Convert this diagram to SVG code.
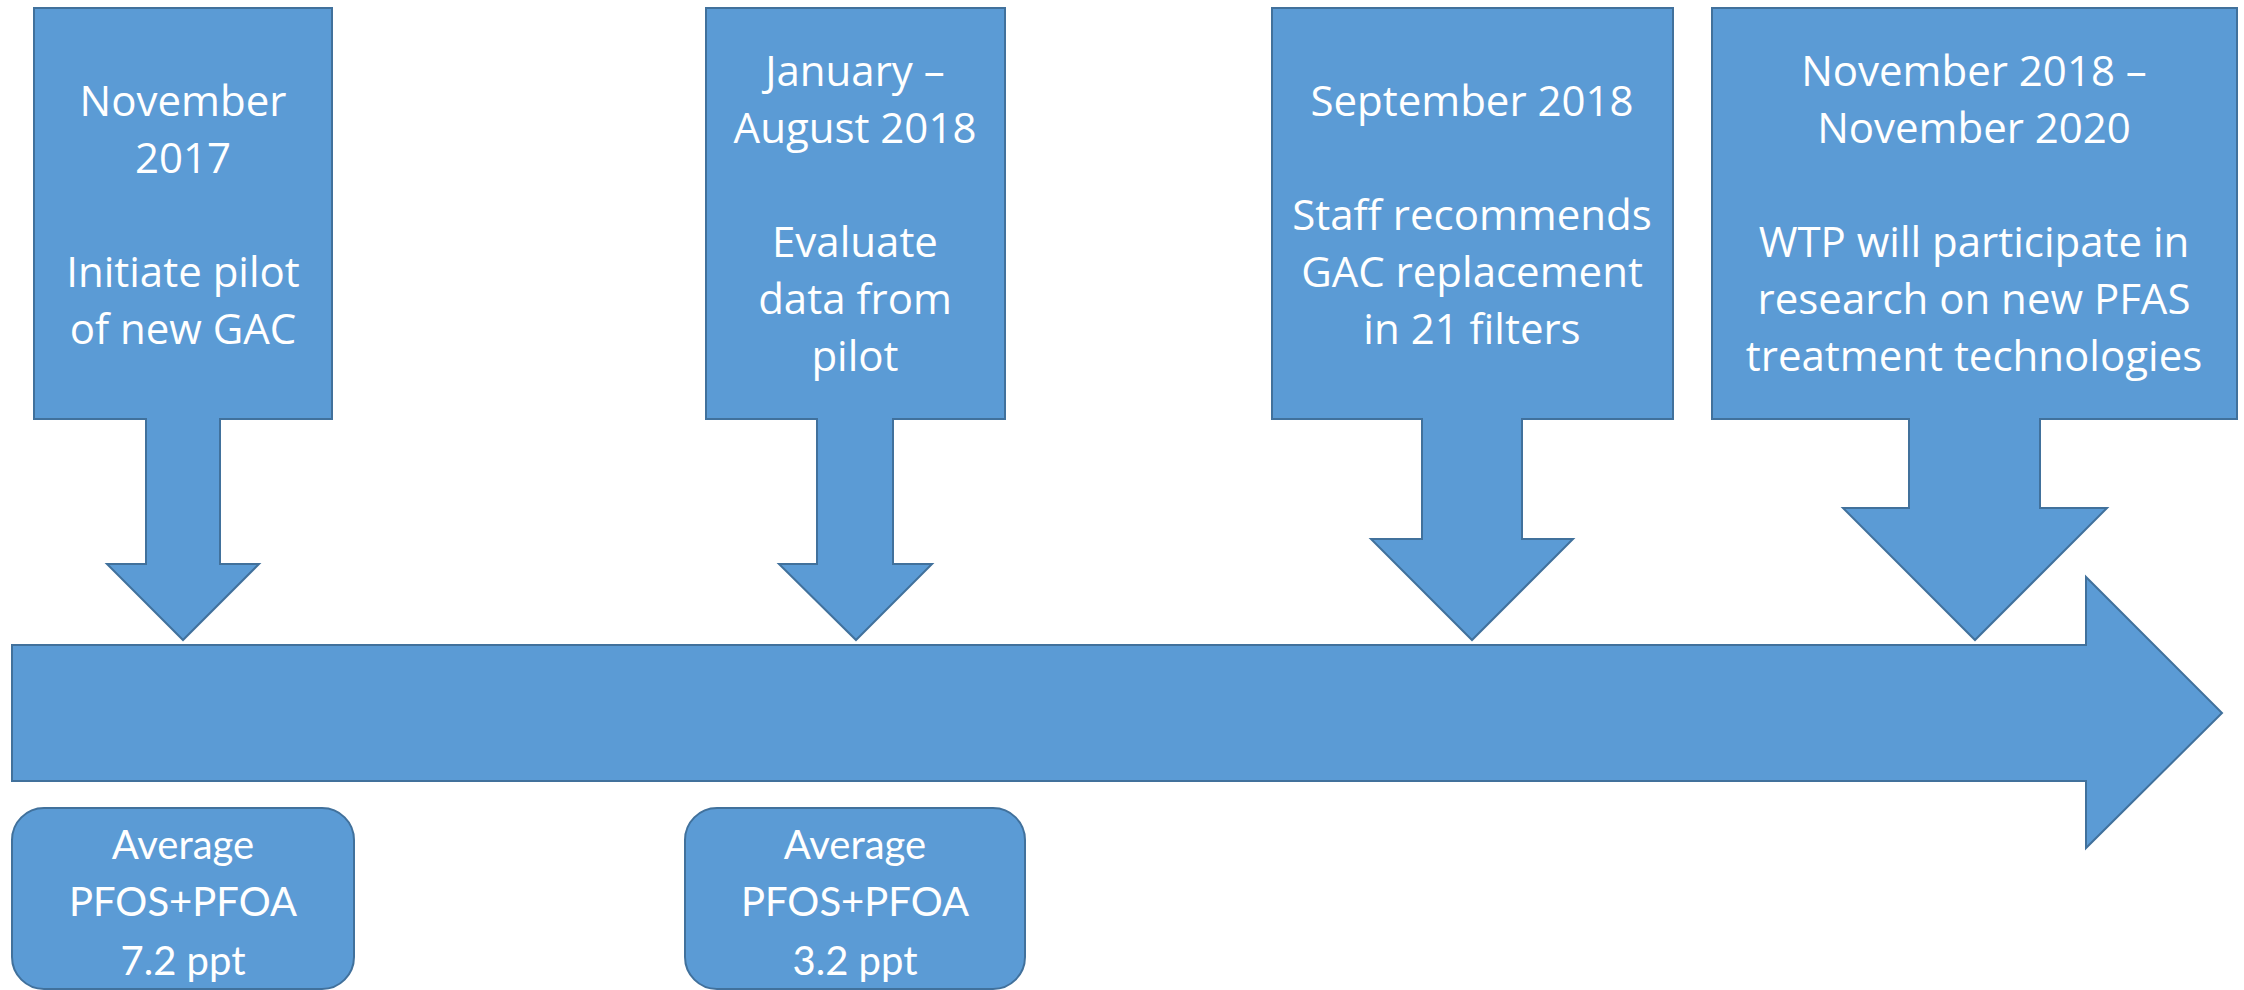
<svg xmlns="http://www.w3.org/2000/svg" width="2244" height="990" viewBox="0 0 2244 990">
<style>
.s{fill:#5B9BD5;stroke:#41719C;stroke-width:2;stroke-linejoin:miter}
.t{font-family:"Open Sans","Noto Sans",sans-serif;font-size:42px;fill:#FFFFFF;text-anchor:middle}
.b{font-family:Lato,"Liberation Sans",sans-serif;font-size:40px;fill:#FFFFFF;text-anchor:middle}
</style>
<rect width="2244" height="990" fill="#FFFFFF"/>
<g id="connectors">
<path id="timeline" class="s" d="M12,645 L2086,645 L2086,577 L2222,713 L2086,848 L2086,781 L12,781 Z"/>
</g>
<g id="node1">
<path class="s" d="M34,8 L332,8 L332,419 L220,419 L220,564 L259,564 L183,640 L107,564 L146,564 L146,419 L34,419 Z"/>
<text class="t" x="183" y="116">November</text>
<text class="t" x="183" y="173">2017</text>
<text class="t" x="183" y="287">Initiate pilot</text>
<text class="t" x="183" y="344">of new GAC</text>
</g>
<g id="node2">
<path class="s" d="M706,8 L1005,8 L1005,419 L893,419 L893,564 L932,564 L856,640 L779,564 L817,564 L817,419 L706,419 Z"/>
<text class="t" x="855" y="86">January –</text>
<text class="t" x="855" y="143">August 2018</text>
<text class="t" x="855" y="257">Evaluate</text>
<text class="t" x="855" y="314">data from</text>
<text class="t" x="855" y="371">pilot</text>
</g>
<g id="node3">
<path class="s" d="M1272,8 L1673,8 L1673,419 L1522,419 L1522,539 L1573,539 L1472,640 L1371,539 L1422,539 L1422,419 L1272,419 Z"/>
<text class="t" x="1472" y="116">September 2018</text>
<text class="t" x="1472" y="230">Staff recommends</text>
<text class="t" x="1472" y="287">GAC replacement</text>
<text class="t" x="1472" y="344">in 21 filters</text>
</g>
<g id="node4">
<path class="s" d="M1712,8 L2237,8 L2237,419 L2040,419 L2040,508 L2107,508 L1975,640 L1843,508 L1909,508 L1909,419 L1712,419 Z"/>
<text class="t" x="1974" y="86">November 2018 –</text>
<text class="t" x="1974" y="143">November 2020</text>
<text class="t" x="1974" y="257">WTP will participate in</text>
<text class="t" x="1974" y="314">research on new PFAS</text>
<text class="t" x="1974" y="371">treatment technologies</text>
</g>
<g id="node5">
<rect class="s" x="12" y="808" width="342" height="181" rx="32" ry="32"/>
<text class="b" x="183" y="859">Average</text>
<text class="b" x="183" y="916">PFOS+PFOA</text>
<text class="b" x="183" y="975">7.2 ppt</text>
</g>
<g id="node6">
<rect class="s" x="685" y="808" width="340" height="181" rx="32" ry="32"/>
<text class="b" x="855" y="859">Average</text>
<text class="b" x="855" y="916">PFOS+PFOA</text>
<text class="b" x="855" y="975">3.2 ppt</text>
</g>
</svg>
